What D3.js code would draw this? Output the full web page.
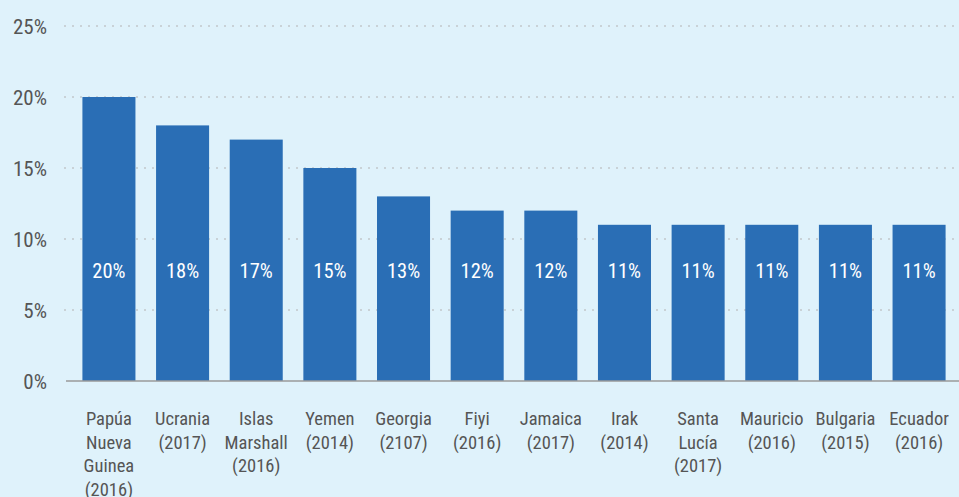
<!DOCTYPE html>
<html>
<head>
<meta charset="utf-8">
<script src="https://cdn.jsdelivr.net/npm/d3@7"></script>
<style>
  html, body { margin: 0; padding: 0; background: #dff2fb; }
  svg { display: block; font-family: "Roboto Condensed", "Liberation Sans Narrow", sans-serif; font-weight: 400; }
</style>
</head>
<body>
<div id="chart"></div>
<script>
const countries = [
  ['Papúa', 'Nueva', 'Guinea', '(2016)'],
  ['Ucrania', '(2017)'],
  ['Islas', 'Marshall', '(2016)'],
  ['Yemen', '(2014)'],
  ['Georgia', '(2107)'],
  ['Fiyi', '(2016)'],
  ['Jamaica', '(2017)'],
  ['Irak', '(2014)'],
  ['Santa', 'Lucía', '(2017)'],
  ['Mauricio', '(2016)'],
  ['Bulgaria', '(2015)'],
  ['Ecuador', '(2016)']
];
const values = [20, 18, 17, 15, 13, 12, 12, 11, 11, 11, 11, 11];
const yTicks = [0, 5, 10, 15, 20, 25];

const width = 959, height = 497;
const dims = { left: 64, right: 964, top: 26, bottom: 381 };

const svg = d3.select('#chart')
              .append('svg')
              .attr('width', width)
              .attr('height', height);

svg.append('rect')
    .attr('width', width)
    .attr('height', height)
    .attr('fill', '#dff2fb');

const x = d3.scaleBand()
            .domain(d3.range(values.length))
            .range([dims.left, dims.right])
            .paddingInner(0.28)
            .paddingOuter(0.25);

const y = d3.scaleLinear().domain([0, 25]).range([dims.bottom, dims.top]);

// gridlines (dotted)
svg.append('g')
    .selectAll('line')
    .data(yTicks.filter(d => d > 0))
    .join('line')
    .attr('x1', dims.left)
    .attr('x2', width)
    .attr('y1', d => y(d))
    .attr('y2', d => y(d))
    .attr('stroke', '#c9d2d7')
    .attr('stroke-width', 2)
    .attr('stroke-dasharray', '2,6');

// y labels
svg.append('g')
    .selectAll('text')
    .data(yTicks)
    .join('text')
    .attr('x', 47)
    .attr('y', d => y(d))
    .attr('dy', '0.36em')
    .attr('text-anchor', 'end')
    .attr('fill', '#555')
    .attr('font-size', 21)
    .text(d => d + '%');

// bars
svg.append('g')
    .selectAll('rect')
    .data(values)
    .join('rect')
    .attr('x', (_, i) => x(i))
    .attr('y', d => y(d))
    .attr('width', x.bandwidth())
    .attr('height', d => y(0) - y(d))
    .attr('fill', '#2a6eb5');

// value labels inside bars
svg.append('g')
    .selectAll('text')
    .data(values)
    .join('text')
    .attr('x', (_, i) => x(i) + x.bandwidth() / 2)
    .attr('y', y(7.75))
    .attr('dy', '0.36em')
    .attr('text-anchor', 'middle')
    .attr('fill', '#fff')
    .attr('font-size', 20.5)
    .text(d => d + '%');

// baseline
svg.append('line')
    .attr('x1', 66)
    .attr('x2', width)
    .attr('y1', y(0))
    .attr('y2', y(0))
    .attr('stroke', '#9a9a9a')
    .attr('stroke-width', 1.5);

// category labels
const cats = svg.append('g')
    .selectAll('text')
    .data(countries)
    .join('text')
    .attr('x', (_, i) => x(i) + x.bandwidth() / 2)
    .attr('y', 425)
    .attr('text-anchor', 'middle')
    .attr('fill', '#555')
    .attr('font-size', 18.5);

cats.each(function(lines) {
    const t = d3.select(this);
    lines.forEach((l, j) => {
        t.append('tspan')
            .attr('x', t.attr('x'))
            .attr('dy', j === 0 ? 0 : 23.5)
            .text(l);
    });
});
</script>
</body>
</html>
